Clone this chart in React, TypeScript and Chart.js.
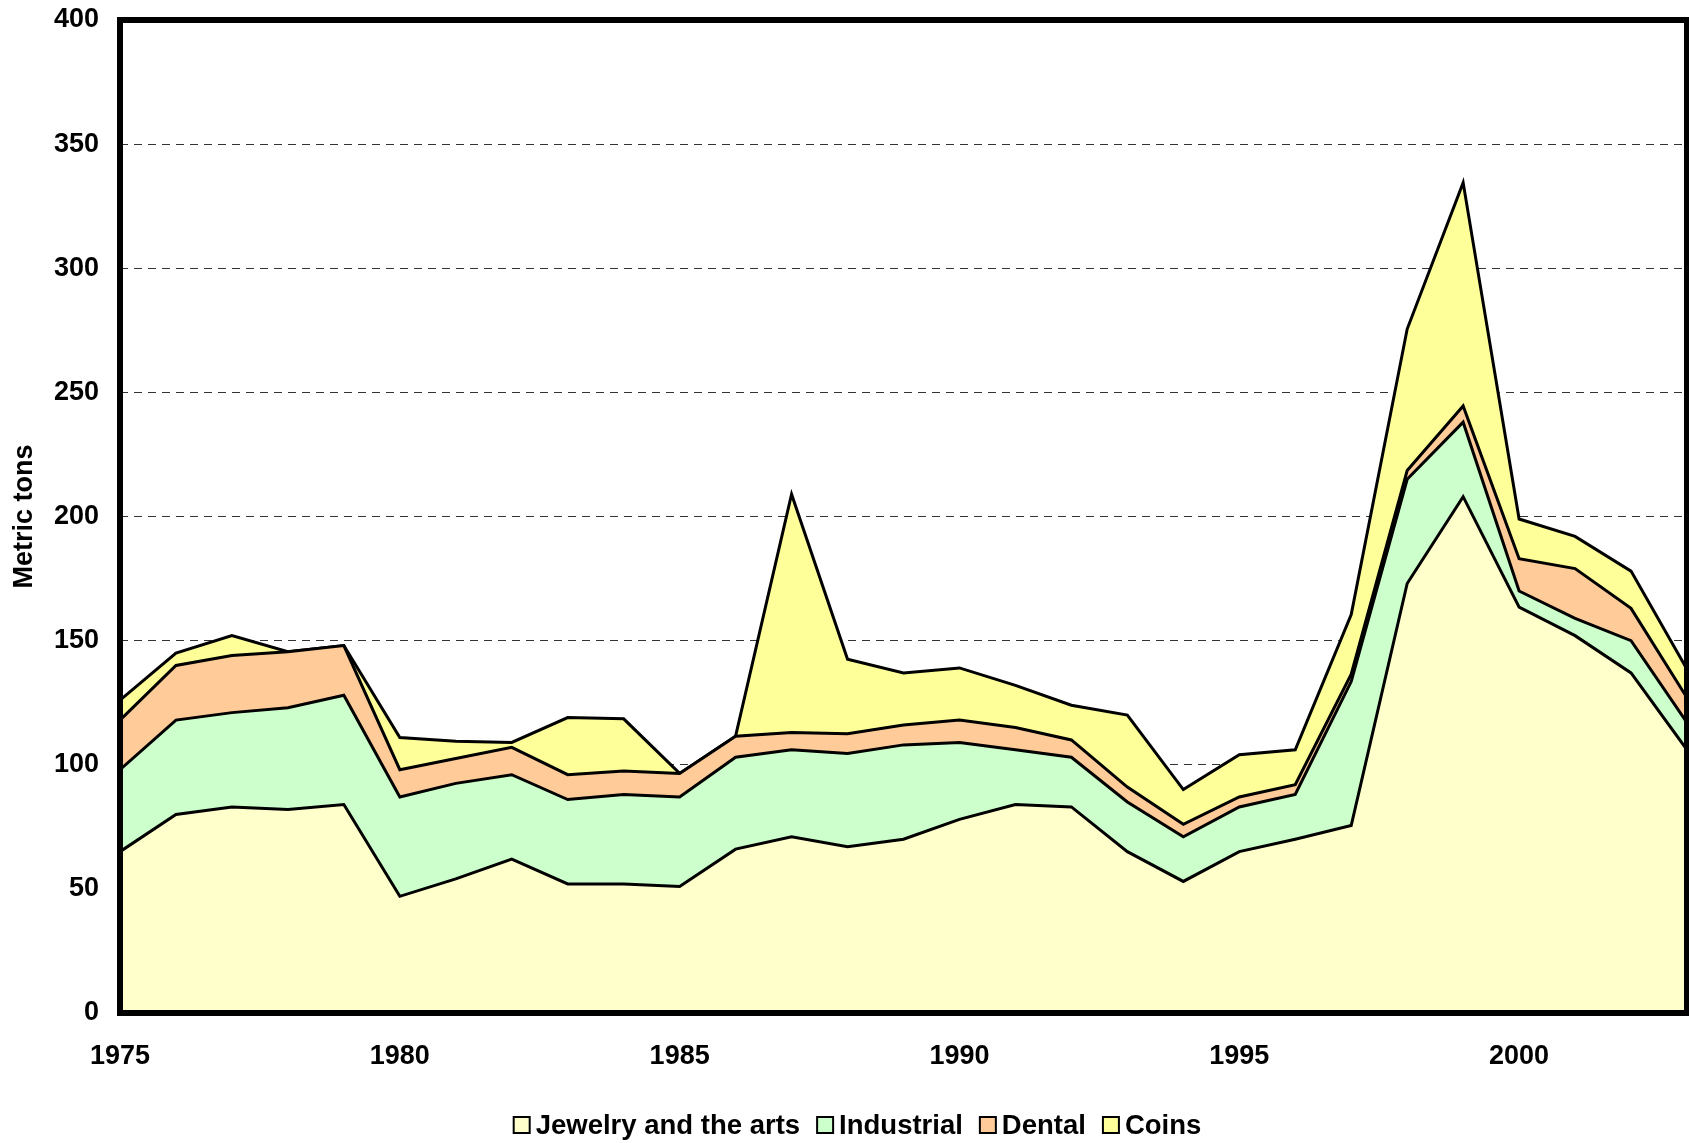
import React, { useEffect, useRef } from "react";
import { Chart, registerables } from "chart.js";

Chart.register(...registerables);

// ---- Data (metric tons) ----
const years = [
  1975, 1976, 1977, 1978, 1979, 1980, 1981, 1982, 1983, 1984, 1985, 1986, 1987, 1988, 1989,
  1990, 1991, 1992, 1993, 1994, 1995, 1996, 1997, 1998, 1999, 2000, 2001, 2002, 2003,
];
const jewelry = [
  65, 80, 83, 82, 84, 47, 54, 62, 52, 52, 51, 66, 71, 67, 70,
  78, 84, 83, 65, 53, 65, 70, 75.5, 173, 208, 163.5, 152, 137, 106,
];
const industrial = [
  33, 38, 38, 41, 44, 40, 38.5, 34, 34, 36, 36, 37, 35, 37.5, 38,
  31, 22, 20, 20, 18, 18, 18, 58, 42, 30, 6.5, 7, 13, 11,
];
const dental = [
  20, 22, 23, 22.5, 20, 11, 10, 11, 10, 9.5, 9.5, 8.5, 7, 8, 8,
  9, 9, 7, 6, 5, 4, 4, 3, 3.5, 6.5, 13, 20, 13, 10,
];
const coins = [
  8, 5, 8, 0, 0, 13, 7, 2, 23, 21, 0, 0, 96, 30, 21,
  21, 17, 14, 29, 14, 17, 14, 24, 57, 90, 16, 13, 15, 11.5,
];

const seriesNames = ["Jewelry and the arts", "Industrial", "Dental", "Coins"];
const seriesColors = ["#FFFFCC", "#CCFFCC", "#FFCC99", "#FFFF99"];
const xTickValues = [1975, 1980, 1985, 1990, 1995, 2000];
const yMin = 0;
const yMax = 400;
const yStep = 50;
const yTitle = "Metric tons";

const FONT = '"Liberation Sans", Arial, sans-serif';

export default function App() {
  const ref = useRef<HTMLCanvasElement>(null);

  useEffect(() => {
    const canvas = ref.current;
    if (!canvas) return;
    const seriesValues = [jewelry, industrial, dental, coins];

    const framePlugin = {
      id: "frame",
      afterDatasetsDraw(chart: any) {
        const { ctx, chartArea: a } = chart;
        ctx.save();
        ctx.lineWidth = 6;
        ctx.strokeStyle = "#000";
        ctx.strokeRect(a.left, a.top, a.right - a.left, a.bottom - a.top);
        ctx.restore();
      },
    };

    const legendPlugin = {
      id: "customLegend",
      afterDraw(chart: any) {
        const c = chart.ctx;
        c.save();
        c.font = `bold 27.5px ${FONT}`;
        const items = chart.data.datasets.map((d: any) => ({
          label: d.label,
          color: d.backgroundColor,
          w: c.measureText(d.label).width,
        }));
        const box = 16;
        const gap = 6;
        const sep = 17;
        const total =
          items.reduce((s: number, it: any) => s + box + gap + it.w, 0) + sep * (items.length - 1);
        let x = chart.width / 2 + 13 - total / 2;
        const cy = 1125;
        items.forEach((it: any) => {
          c.fillStyle = it.color;
          c.fillRect(x, cy - box / 2, box, box);
          c.lineWidth = 2;
          c.strokeStyle = "#000";
          c.strokeRect(x, cy - box / 2, box, box);
          x += box + gap;
          c.fillStyle = "#000";
          c.textBaseline = "middle";
          c.textAlign = "left";
          c.fillText(it.label, x, cy + 1);
          x += it.w + sep;
        });
        c.restore();
      },
    };

    const chart = new Chart(canvas, {
      type: "line",
      data: {
        datasets: seriesNames.map((name, i) => ({
          label: name,
          data: years.map((yr, j) => ({ x: yr, y: seriesValues[i][j] })),
          backgroundColor: seriesColors[i],
          borderColor: "#000",
          borderWidth: 3,
          pointRadius: 0,
          pointHoverRadius: 0,
          tension: 0,
          fill: i === 0 ? "origin" : "-1",
        })),
      },
      options: {
        responsive: false,
        animation: false,
        events: [],
        layout: { padding: { left: 0, right: 2, top: 20, bottom: 0 } },
        plugins: {
          legend: { display: false },
          tooltip: { enabled: false },
        },
        scales: {
          x: {
            type: "linear",
            min: years[0],
            max: years[years.length - 1],
            grid: { display: false, drawTicks: false },
            border: { display: false },
            afterBuildTicks: (s: any) => {
              s.ticks = xTickValues.map((v) => ({ value: v }));
            },
            afterFit: (s: any) => {
              s.height = 130;
            },
            ticks: {
              autoSkip: false,
              maxRotation: 0,
              padding: 27,
              color: "#000",
              font: { family: FONT, size: 27, weight: "bold" },
              callback: (v: any) => String(v),
            },
          },
          y: {
            stacked: true,
            min: yMin,
            max: yMax,
            grid: {
              color: "#333",
              lineWidth: 1,
              drawTicks: true,
              tickLength: 21,
              tickColor: "rgba(0,0,0,0)",
            },
            border: { display: false, dash: [8, 6] },
            afterFit: (s: any) => {
              s.width = 120;
            },
            ticks: {
              stepSize: yStep,
              padding: 0,
              color: "#000",
              font: { family: FONT, size: 27, weight: "bold" },
            },
            title: {
              display: true,
              text: yTitle,
              color: "#000",
              font: { family: FONT, size: 27, weight: "bold" },
              padding: { top: 8, bottom: 0 },
            },
          },
        },
      },
      plugins: [framePlugin, legendPlugin],
    } as any);

    return () => chart.destroy();
  }, []);

  return (
    <div style={{ position: "absolute", left: 0, top: 0, width: 1689, height: 1143, background: "#fff" }}>
      <canvas ref={ref} width={1689} height={1143} style={{ display: "block", width: 1689, height: 1143 }} />
    </div>
  );
}
